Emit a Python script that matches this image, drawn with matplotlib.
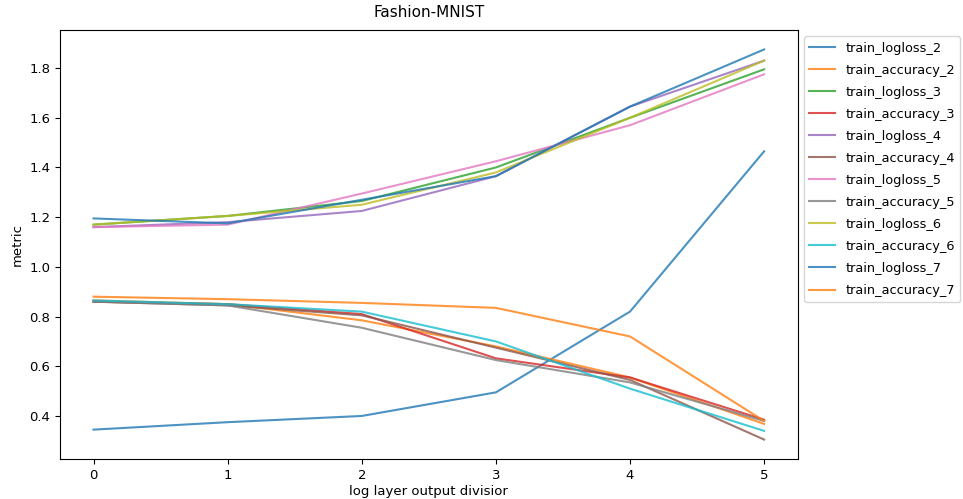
import matplotlib
matplotlib.use("Agg")
import matplotlib.pyplot as plt

x = [0, 1, 2, 3, 4, 5]

train_logloss_2 = [0.345, 0.375, 0.40, 0.495, 0.82, 1.465]
train_accuracy_2 = [0.865, 0.85, 0.785, 0.68, 0.555, 0.368]
train_logloss_3 = [1.17, 1.205, 1.265, 1.40, 1.60, 1.795]
train_accuracy_3 = [0.86, 0.85, 0.81, 0.632, 0.555, 0.385]
train_logloss_4 = [1.16, 1.18, 1.225, 1.365, 1.645, 1.83]
train_accuracy_4 = [0.86, 0.845, 0.805, 0.675, 0.545, 0.305]
train_logloss_5 = [1.16, 1.17, 1.295, 1.425, 1.57, 1.775]
train_accuracy_5 = [0.86, 0.845, 0.755, 0.625, 0.535, 0.38]
train_logloss_6 = [1.17, 1.205, 1.25, 1.38, 1.60, 1.83]
train_accuracy_6 = [0.865, 0.85, 0.82, 0.70, 0.51, 0.34]
train_logloss_7 = [1.195, 1.175, 1.27, 1.365, 1.645, 1.875]
train_accuracy_7 = [0.88, 0.87, 0.855, 0.835, 0.72, 0.38]

series = [
    ("train_logloss_2", train_logloss_2),
    ("train_accuracy_2", train_accuracy_2),
    ("train_logloss_3", train_logloss_3),
    ("train_accuracy_3", train_accuracy_3),
    ("train_logloss_4", train_logloss_4),
    ("train_accuracy_4", train_accuracy_4),
    ("train_logloss_5", train_logloss_5),
    ("train_accuracy_5", train_accuracy_5),
    ("train_logloss_6", train_logloss_6),
    ("train_accuracy_6", train_accuracy_6),
    ("train_logloss_7", train_logloss_7),
    ("train_accuracy_7", train_accuracy_7),
]

fig = plt.figure(figsize=(9.63, 4.99), dpi=100)
# axes placed to match the reference frame
ax = fig.add_axes([0.0623, 0.080, 0.766, 0.860])

for name, vals in series:
    ax.plot(x, vals, label=name, alpha=0.8, linewidth=1.5)

ax.set_title("Fashion-MNIST", fontsize=11, pad=9)
ax.set_xlabel("log layer output divisior", fontsize=9.5, labelpad=2)
ax.set_ylabel("metric", fontsize=9.5)
ax.tick_params(labelsize=9.5)
ax.legend(loc="upper left", bbox_to_anchor=(1, 1), fontsize=9.3,
          labelspacing=0.7)

fig.savefig("out.png", dpi=100)
